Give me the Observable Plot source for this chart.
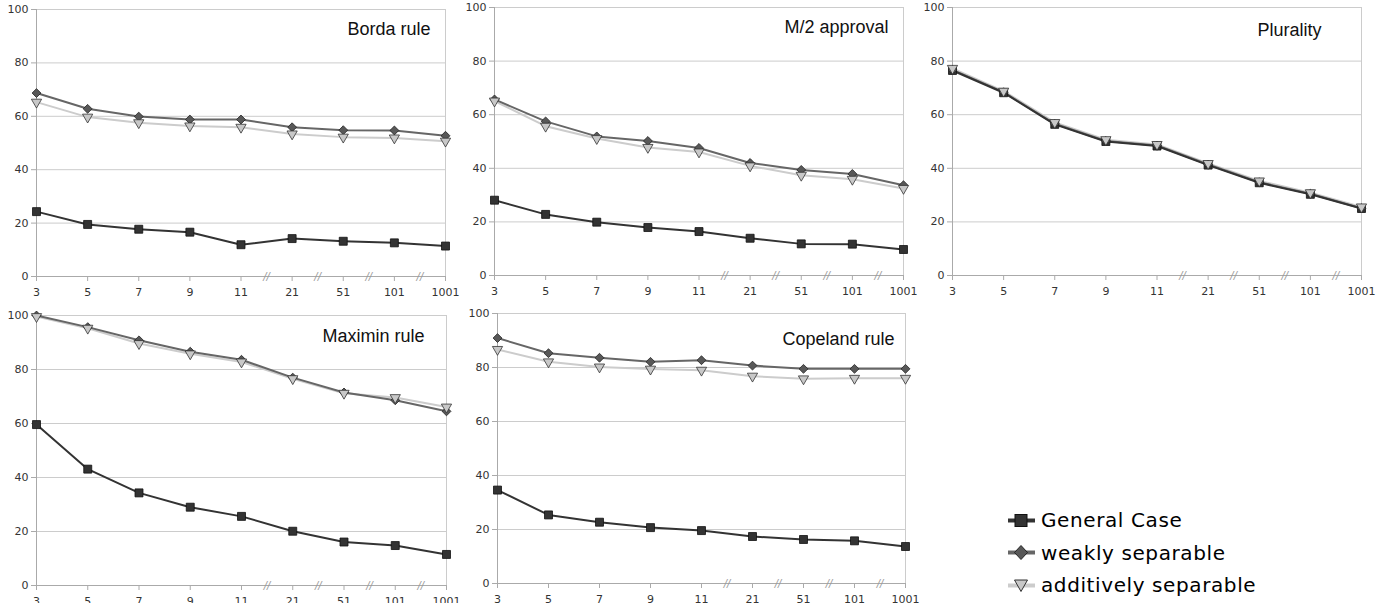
<!DOCTYPE html>
<html>
<head>
<meta charset="utf-8">
<script src="https://cdn.jsdelivr.net/npm/d3@7"></script>
<script src="https://cdn.jsdelivr.net/npm/@observablehq/plot@0.6"></script>
<style>
  html, body { margin: 0; padding: 0; background: #fff; }
  #root { position: relative; width: 1389px; height: 603px; overflow: hidden; background: #fff; }
  .panel { position: absolute; }
  .legend { position: absolute; left: 1006px; top: 504px; font-family: "DejaVu Sans", sans-serif; font-size: 20px; letter-spacing: 0.6px; color: #000; }
  .legend .row { display: flex; align-items: center; height: 32.5px; }
  .legend svg { margin-right: 2px; }
</style>
</head>
<body>
<div id="root"></div>
<script>
// ---- data ----
const categories = ["3", "5", "7", "9", "11", "21", "51", "101", "1001"];
const seriesNames = ["General Case", "weakly separable", "additively separable"];

const bordaGeneral  = [24.3, 19.5, 17.7, 16.6, 11.9, 14.2, 13.2, 12.6, 11.4];
const bordaWeakly   = [68.7, 62.8, 59.9, 58.8, 58.8, 55.9, 54.8, 54.7, 52.7];
const bordaAdditive = [65.3, 59.7, 57.6, 56.4, 55.9, 53.4, 52.2, 51.9, 50.7];

const m2General  = [28.1, 22.8, 19.9, 17.9, 16.4, 13.9, 11.8, 11.7, 9.7];
const m2Weakly   = [65.7, 57.5, 51.9, 50.2, 47.6, 42.0, 39.4, 37.9, 33.7];
const m2Additive = [65.1, 55.7, 51.1, 47.8, 46.1, 40.9, 37.4, 35.9, 32.5];

const pluralityGeneral  = [76.5, 68.2, 56.4, 50.0, 48.3, 41.2, 34.6, 30.3, 25.0];
const pluralityWeakly   = [76.7, 68.4, 56.6, 50.2, 48.5, 41.4, 34.8, 30.5, 25.1];
const pluralityAdditive = [77.3, 68.8, 57.1, 50.7, 48.9, 41.8, 35.3, 30.9, 25.6];

const maximinGeneral  = [59.6, 43.1, 34.3, 29.0, 25.6, 20.1, 16.1, 14.8, 11.5];
const maximinWeakly   = [100.0, 95.7, 90.8, 86.6, 83.6, 77.0, 71.5, 68.6, 64.5];
const maximinAdditive = [99.6, 95.3, 89.6, 85.8, 82.8, 76.6, 71.2, 69.6, 66.1];

const copelandGeneral  = [34.6, 25.4, 22.7, 20.7, 19.6, 17.4, 16.3, 15.8, 13.7];
const copelandWeakly   = [90.9, 85.3, 83.6, 82.1, 82.7, 80.7, 79.5, 79.5, 79.5];
const copelandAdditive = [86.7, 82.1, 80.2, 79.4, 79.0, 76.8, 75.8, 76.0, 76.0];

const yTicks = [0, 20, 40, 60, 80, 100];
const breakPositions = [4.5, 5.5, 6.5, 7.5]; // axis breaks between 11|21|51|101|1001

// ---- panels (data + layout) ----
const panels = [
  {title: "Borda rule",    series: [bordaGeneral, bordaWeakly, bordaAdditive],
   left: 0,   top: 0,   width: 460, height: 300, ml: 36, mr: 15, mt: 9,  mb: 24, tdx: 311, tdy: 20},
  {title: "M/2 approval",  series: [m2General, m2Weakly, m2Additive],
   left: 460, top: 0,   width: 460, height: 300, ml: 34, mr: 17, mt: 7,  mb: 25, tdx: 290, tdy: 20},
  {title: "Plurality",     series: [pluralityGeneral, pluralityWeakly, pluralityAdditive],
   left: 920, top: 0,   width: 469, height: 300, ml: 32, mr: 28, mt: 7,  mb: 25, tdx: 305, tdy: 23},
  {title: "Maximin rule",  series: [maximinGeneral, maximinWeakly, maximinAdditive],
   left: 0,   top: 300, width: 460, height: 303, ml: 36, mr: 14, mt: 15, mb: 18, tdx: 286, tdy: 21},
  {title: "Copeland rule", series: [copelandGeneral, copelandWeakly, copelandAdditive],
   left: 460, top: 300, width: 460, height: 303, ml: 37, mr: 15, mt: 13, mb: 20, tdx: 285, tdy: 26}
];

const styles = [
  {line: "#333333", fill: "#333333", stroke: "#111111", symbol: "square",   r: 4.5, rotate: 0},
  {line: "#666666", fill: "#585858", stroke: "#222222", symbol: "diamond2", r: 4.0, rotate: 0},
  {line: "#cccccc", fill: "#c8c8c8", stroke: "#333333", symbol: "triangle", r: 3.8, rotate: 180}
];

const root = document.getElementById("root");

for (const p of panels) {
  const rows = [];
  p.series.forEach((vals, s) => {
    vals.forEach((v, i) => rows.push({series: seriesNames[s], s, i, v}));
  });
  const lineMarks = [];
  const dotMarks = [];
  for (let s = 0; s < 3; s++) {
    const data = rows.filter(d => d.s === s);
    const st = styles[s];
    lineMarks.push(Plot.line(data, {x: "i", y: "v", stroke: st.line, strokeWidth: 2}));
    dotMarks.push(Plot.dot(data, {x: "i", y: "v", symbol: () => st.symbol, r: st.r, rotate: st.rotate,
      fill: st.fill, stroke: st.stroke, strokeWidth: 0.8}));
  }
  const lines = [lineMarks[2], lineMarks[1], lineMarks[0]];

  const chart = Plot.plot({
    width: p.width,
    height: p.height,
    marginLeft: p.ml,
    marginRight: p.mr,
    marginTop: p.mt,
    marginBottom: p.mb,
    style: {fontFamily: "DejaVu Sans, sans-serif", fontSize: "11px", color: "#333", background: "transparent", overflow: "visible"},
    x: {type: "linear", domain: [0, categories.length - 1], axis: null},
    y: {domain: [0, 100], axis: null},
    symbol: {type: "identity"},
    marks: [
      Plot.ruleY(yTicks.filter(t => t > 0), {stroke: "#cccccc", strokeWidth: 1}),
      Plot.ruleX([categories.length - 1], {stroke: "#cccccc", strokeWidth: 1}),
      Plot.axisY(yTicks, {tickSize: 5, tickPadding: 3, stroke: "#aaaaaa", fill: "#333", fontSize: 11, label: null}),
      Plot.axisX(d3.range(categories.length), {tickSize: 5, tickPadding: 7, stroke: "#aaaaaa", fill: "#333",
        fontSize: 11, tickFormat: i => categories[i], label: null}),
      Plot.ruleX([0], {y1: 0, y2: 100, stroke: "#aaaaaa"}),
      Plot.ruleY([0], {stroke: "#aaaaaa"}),
      Plot.text(breakPositions, {x: d => d, y: () => 0, text: () => "//", fill: "#999", fontSize: 10, fontStyle: "italic"}),
      ...lines,
      ...dotMarks,
      Plot.text([p.title], {frameAnchor: "top-left", dx: p.tdx, dy: p.tdy, textAnchor: "start", lineAnchor: "middle",
        fontSize: 18, fontFamily: "Liberation Sans, Arial, sans-serif", fill: "#111"})
    ]
  });
  const wrap = document.createElement("div");
  wrap.className = "panel";
  wrap.style.left = p.left + "px";
  wrap.style.top = p.top + "px";
  wrap.appendChild(chart);
  root.appendChild(wrap);
}

// ---- legend ----
const legend = document.createElement("div");
legend.className = "legend";
const shapes = [
  '<rect x="9" y="4.5" width="12" height="12" fill="#333" stroke="#111" stroke-width="1"/>',
  '<path d="M15,3.5 L21.5,10.5 L15,17.5 L8.5,10.5 Z" fill="#585858" stroke="#222" stroke-width="1"/>',
  '<path d="M8.5,5 L21.5,5 L15,16.5 Z" fill="#c8c8c8" stroke="#333" stroke-width="1"/>'
];
seriesNames.forEach((name, s) => {
  const row = document.createElement("div");
  row.className = "row";
  row.innerHTML = `<svg width="33" height="21"><line x1="2" x2="29" y1="10.5" y2="10.5" stroke="${styles[s].line}" stroke-width="4"/>${shapes[s]}</svg><span>${name}</span>`;
  legend.appendChild(row);
});
root.appendChild(legend);
</script>
</body>
</html>
